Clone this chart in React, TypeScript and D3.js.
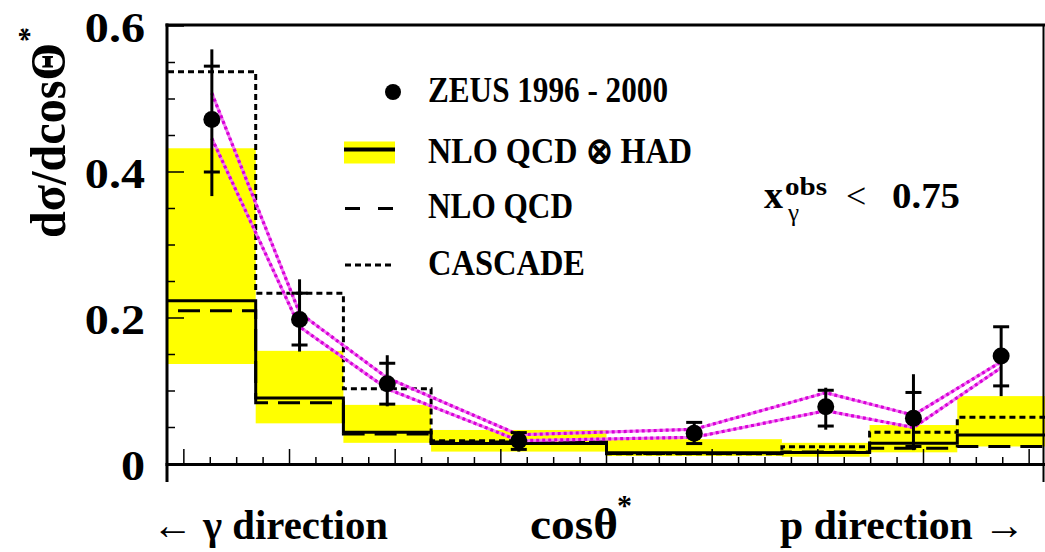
import React from "react";
import * as d3 from "d3";

// cos(theta*) bin edges
const binEdges = [-0.83, -0.664, -0.498, -0.332, 0, 0.332, 0.498, 0.664, 0.83];

// ZEUS 1996-2000 measurement, d sigma / d cos(theta*)
const zeusValues = [0.472, 0.198, 0.11, 0.032, 0.042, 0.0785, 0.0626, 0.148];
const statLow = [0.4, 0.163, 0.082, 0.02, 0.028, 0.052, 0.024, 0.107];
const statHigh = [0.545, 0.234, 0.138, 0.043, 0.057, 0.101, 0.098, 0.188];
const totalLow = [0.367, 0.154, 0.079, 0.017, 0.027, 0.047, 0.019, 0.093];
const totalHigh = [0.568, 0.253, 0.149, 0.045, 0.058, 0.1045, 0.123, 0.188];

// energy-scale uncertainty band on the data
const escaleUpper = [0.508, 0.207, 0.118, 0.04, 0.0475, 0.0977, 0.067, 0.14];
const escaleLower = [0.446, 0.188, 0.103, 0.032, 0.0366, 0.073, 0.05, 0.132];

// theory predictions per bin
const nloHad = [0.2237, 0.0904, 0.0434, 0.028, 0.0155, 0.0158, 0.0283, 0.0397];
const nloHadBandLow = [0.137, 0.0557, 0.029, 0.017, 0.011, 0.01, 0.016, 0.024];
const nloHadBandHigh = [0.4325, 0.155, 0.081, 0.0466, 0.034, 0.029, 0.0534, 0.093];
const nloQcd = [0.21, 0.084, 0.041, 0.03, 0.0145, 0.0165, 0.0215, 0.024];
const cascade = [0.5374, 0.2338, 0.103, 0.032, 0.014, 0.0235, 0.0434, 0.064];

// axis ticks
const yTickLabels = ["0", "0.2", "0.4", "0.6"];
const yTickValues = [0, 0.2, 0.4, 0.6];

const legendLabels = ["ZEUS 1996 - 2000", "NLO QCD \u2297 HAD", "NLO QCD", "CASCADE"];

const W = 1045;
const H = 552;
const FONT = "'Liberation Serif', 'Times New Roman', serif";

export default function App() {
  const x = d3.scaleLinear().domain([-0.83, 0.83]).range([168, 1045]);
  const y = d3.scaleLinear().domain([0, 0.6]).range([464, 26]);

  const centers = binEdges.slice(0, -1).map((e, i) => (e + binEdges[i + 1]) / 2);

  const stepPoints = (vals: number[]) => {
    const pts: [number, number][] = [];
    vals.forEach((v, i) => {
      pts.push([x(binEdges[i]), y(v)]);
      pts.push([x(binEdges[i + 1]), y(v)]);
    });
    return pts;
  };
  const line = d3.line<[number, number]>();

  const escLine = (vals: number[]) =>
    line(centers.map((c, i) => [x(c), y(vals[i])] as [number, number])) || "";

  const yTicks = d3.range(0, 0.6001, 0.05);
  const xTicks = d3.range(-0.8, 0.8001, 0.05);
  const isMajor = (v: number) => Math.abs(v / 0.2 - Math.round(v / 0.2)) < 1e-6;

  const y0 = y(0);
  const xl = x.range()[0] - 1;
  const xr = x.range()[1] - 1.5;

  return (
    <svg
      width={W}
      height={H}
      style={{ position: "absolute", left: 0, top: 0, display: "block", background: "#fff" }}
      fontFamily={FONT}
      fontWeight="bold"
    >
      {/* NLO QCD x hadronisation uncertainty band */}
      {nloHadBandHigh.map((hi, i) => (
        <rect
          key={"band" + i}
          x={x(binEdges[i])}
          y={y(hi)}
          width={x(binEdges[i + 1]) - x(binEdges[i])}
          height={y(nloHadBandLow[i]) - y(hi)}
          fill="#ffff00"
        />
      ))}

      {/* predictions as step histograms */}
      <path d={line(stepPoints(cascade)) || ""} fill="none" stroke="#000" strokeWidth={3} strokeDasharray="6 4" />
      <path d={line(stepPoints(nloQcd)) || ""} fill="none" stroke="#000" strokeWidth={3} strokeDasharray="22 10" strokeDashoffset={22} />
      <path d={line(stepPoints(nloHad)) || ""} fill="none" stroke="#000" strokeWidth={3} />

      {/* energy scale band */}
      {[escaleUpper, escaleLower].map((vals, k) => (
        <g key={"esc" + k}>
          <path d={escLine(vals)} fill="none" stroke="#f27cf2" strokeWidth={3} />
          <path d={escLine(vals)} fill="none" stroke="#d800d8" strokeWidth={3.2} strokeDasharray="3 3" />
        </g>
      ))}

      {/* data points */}
      {zeusValues.map((v, i) => {
        const cx = x(centers[i]);
        return (
          <g key={"pt" + i}>
            <line x1={cx} x2={cx} y1={y(totalLow[i])} y2={y(totalHigh[i])} stroke="#000" strokeWidth={3} />
            <line x1={cx - 8} x2={cx + 8} y1={y(statLow[i])} y2={y(statLow[i])} stroke="#000" strokeWidth={3} />
            <line x1={cx - 8} x2={cx + 8} y1={y(statHigh[i])} y2={y(statHigh[i])} stroke="#000" strokeWidth={3} />
            <circle cx={cx} cy={y(v)} r={8.5} fill="#000" />
          </g>
        );
      })}

      {/* frame */}
      <line x1={xl} x2={xl} y1={23.5} y2={482} stroke="#000" strokeWidth={3} />
      <line x1={xr} x2={xr} y1={24} y2={482} stroke="#000" strokeWidth={2} />
      <line x1={xl - 1.5} x2={W} y1={25} y2={25} stroke="#000" strokeWidth={3} />
      <line x1={xl - 1.5} x2={W} y1={y0 + 0.5} y2={y0 + 0.5} stroke="#000" strokeWidth={3} />

      {/* y ticks */}
      {yTicks.map((v) => (
        <line key={"yt" + v} x1={xl} x2={xl + (isMajor(v) ? 17 : 8)} y1={y(v)} y2={y(v)} stroke="#000" strokeWidth={1.5} />
      ))}
      {/* x ticks */}
      {xTicks.map((v) => (
        <line key={"xt" + v} x1={x(v)} x2={x(v)} y1={y0} y2={y0 - (isMajor(v) ? 15 : 7)} stroke="#000" strokeWidth={1.5} />
      ))}

      {/* y tick labels */}
      {yTickValues.map((v, i) => (
        <text
          key={"yl" + v}
          transform={`translate(145, ${y(v) + 16}) scale(1.12, 1)`}
          textAnchor="end"
          fontSize={43}
        >
          {yTickLabels[i]}
        </text>
      ))}

      {/* y axis title */}
      <text transform="translate(65, 238) rotate(-90)" fontSize={50} textLength={195} lengthAdjust="spacingAndGlyphs">
        dσ/dcosΘ
      </text>
      <text transform="translate(38, 42) rotate(-90)" fontSize={30}>
        *
      </text>

      {/* x axis titles */}
      <text x={152} y={539} fontSize={42} textLength={236} lengthAdjust="spacingAndGlyphs">
        ← γ direction
      </text>
      <text x={530} y={539} fontSize={44} textLength={88} lengthAdjust="spacingAndGlyphs">
        cosθ
      </text>
      <text x={617} y={515} fontSize={30}>
        *
      </text>
      <text x={780} y={539} fontSize={42} textLength={245} lengthAdjust="spacingAndGlyphs">
        p direction →
      </text>

      {/* legend */}
      <circle cx={393} cy={92} r={8} fill="#000" />
      <rect x={344} y={141.5} width={51} height={22} fill="#ffff00" />
      <line x1={344} x2={395} y1={149.5} y2={149.5} stroke="#000" strokeWidth={4} />
      <line x1={345} x2={360} y1={208.5} y2={208.5} stroke="#000" strokeWidth={3} />
      <line x1={378} x2={393} y1={208.5} y2={208.5} stroke="#000" strokeWidth={3} />
      <line x1={345} x2={392} y1={265} y2={265} stroke="#000" strokeWidth={3} strokeDasharray="6 4" />
      {[
        { t: legendLabels[0], by: 101.7, w: 240 },
        { t: legendLabels[1], by: 163.3, w: 264 },
        { t: legendLabels[2], by: 218.3, w: 145 },
        { t: legendLabels[3], by: 275, w: 157 },
      ].map((d) => (
        <text key={d.t} x={428} y={d.by} fontSize={36} textLength={d.w} lengthAdjust="spacingAndGlyphs">
          {d.t}
        </text>
      ))}

      {/* kinematic cut */}
      <text x={764} y={208} fontSize={38}>
        x
      </text>
      <text x={785} y={195} fontSize={25} textLength={42} lengthAdjust="spacingAndGlyphs">
        obs
      </text>
      <text x={788} y={221} fontSize={25} fontWeight="normal">
        γ
      </text>
      <text x={846} y={208} fontSize={36} fontWeight="normal">
        &lt;
      </text>
      <text x={892} y={208} fontSize={36} textLength={68} lengthAdjust="spacingAndGlyphs">
        0.75
      </text>
    </svg>
  );
}
